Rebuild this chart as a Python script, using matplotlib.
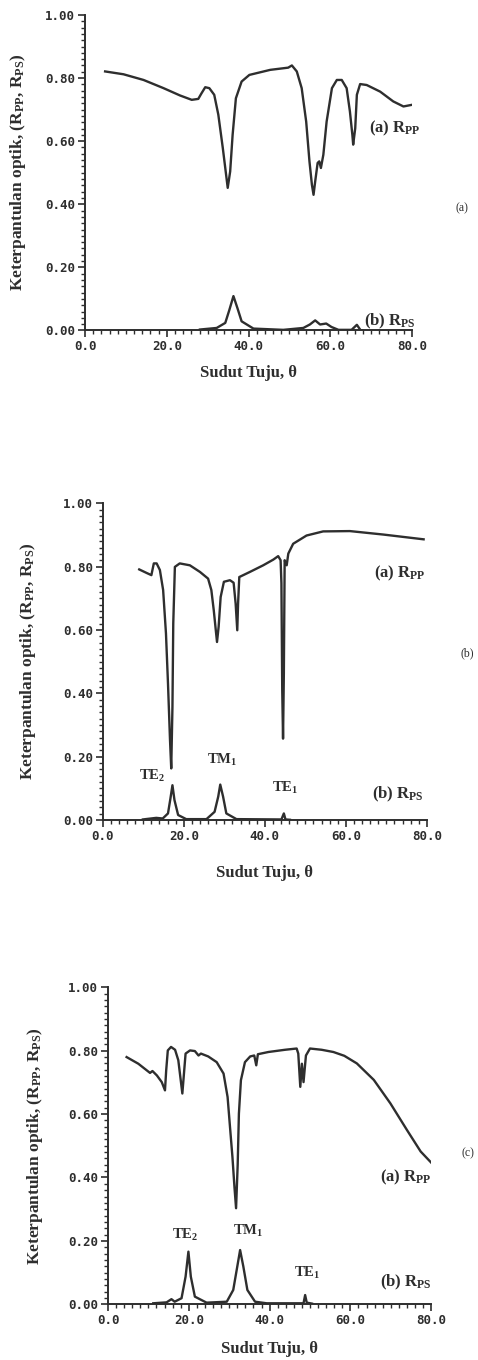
import matplotlib
matplotlib.use("Agg")
import matplotlib.pyplot as plt
from matplotlib.ticker import MultipleLocator, FormatStrFormatter

plt.rcParams['mathtext.fontset'] = 'custom'
plt.rcParams['mathtext.rm'] = 'Liberation Serif:bold'
plt.rcParams['mathtext.it'] = 'Liberation Serif:bold'
plt.rcParams['mathtext.bf'] = 'Liberation Serif:bold'

# panel (a)
a_pp_x = [4.9, 9.4, 14.3, 19.2, 23.2, 26.1, 27.7, 28.5, 29.4, 30.4, 31.6, 32.6, 33.7, 34.5,
          34.9, 35.5, 36.1, 36.9, 38.3, 40.2, 45.3, 49.7, 50.6, 51.8, 53.0, 54.1, 54.9, 55.5,
          55.9, 56.3, 56.9, 57.3, 57.7, 58.3, 59.1, 60.4, 61.6, 62.8, 64.0, 64.8, 65.4, 65.6,
          66.1, 66.5, 67.3, 68.9, 72.2, 75.4, 77.9, 79.9]
a_pp_y = [0.821, 0.812, 0.794, 0.768, 0.745, 0.731, 0.734, 0.752, 0.771, 0.768, 0.747, 0.684, 0.578, 0.494,
          0.452, 0.504, 0.62, 0.736, 0.789, 0.81, 0.826, 0.833, 0.84, 0.821, 0.768, 0.662, 0.536, 0.462,
          0.43, 0.472, 0.531, 0.536, 0.515, 0.557, 0.662, 0.768, 0.794, 0.794, 0.768, 0.694, 0.62, 0.589,
          0.641, 0.747, 0.781, 0.778, 0.757, 0.726, 0.71, 0.715]
a_ps_x = [28.1, 32.2, 34.3, 35.3, 36.3, 37.3, 38.3, 41.2, 48.5, 53.4, 55.0, 56.3, 57.5, 59.0,
          60.3, 62.0, 65.2, 66.5, 67.4, 67.8]
a_ps_y = [0.003, 0.008, 0.024, 0.065, 0.109, 0.07, 0.029, 0.006, 0.002, 0.008, 0.019, 0.032, 0.019, 0.022,
          0.011, 0.002, 0.002, 0.018, 0.001, 0.0]

# panel (b)
b_pp_x = [9.0, 10.8, 12.0, 12.6, 13.3, 14.1, 14.9, 15.6, 16.1, 16.6, 16.9, 17.2, 17.4, 17.8,
          19.0, 21.5, 24.0, 26.0, 26.8, 27.4, 27.9, 28.2, 28.6, 29.1, 29.9, 31.4, 32.3, 32.8,
          33.2, 33.4, 33.7, 36.3, 39.6, 42.1, 43.3, 43.9, 44.1, 44.3, 44.5, 44.7, 44.9, 45.4,
          45.8, 47.0, 50.3, 54.4, 61.0, 69.3, 79.2]
b_pp_y = [0.791, 0.78, 0.773, 0.81, 0.81, 0.789, 0.726, 0.589, 0.431, 0.252, 0.163, 0.357, 0.62, 0.799,
          0.81, 0.804, 0.783, 0.762, 0.726, 0.662, 0.599, 0.562, 0.61, 0.704, 0.752, 0.757, 0.749, 0.683,
          0.599, 0.683, 0.767, 0.783, 0.804, 0.822, 0.833, 0.82, 0.747, 0.41, 0.257, 0.462, 0.82, 0.804,
          0.841, 0.872, 0.898, 0.911, 0.912, 0.901, 0.886]
b_ps_x = [9.9, 13.2, 14.8, 16.1, 16.7, 17.2, 17.7, 18.6, 20.6, 25.6, 27.6, 28.5, 29.0, 29.7,
          30.5, 33.0, 44.1, 44.7, 45.1, 46.2]
b_ps_y = [0.002, 0.007, 0.005, 0.021, 0.068, 0.11, 0.063, 0.016, 0.003, 0.003, 0.026, 0.074, 0.112, 0.074,
          0.021, 0.003, 0.002, 0.021, 0.002, 0.001]

# panel (c)
c_pp_x = [4.6, 7.5, 9.6, 10.4, 11.0, 12.1, 13.3, 14.1, 14.4, 14.8, 15.6, 16.6, 17.4, 18.0,
          18.4, 18.8, 19.2, 20.3, 21.5, 22.4, 23.0, 24.8, 26.9, 28.6, 29.6, 30.2, 30.8, 31.3,
          31.7, 32.1, 32.4, 32.9, 33.9, 35.2, 36.2, 36.7, 37.1, 39.7, 43.8, 46.7, 47.1, 47.6,
          48.0, 48.4, 49.0, 50.0, 52.9, 55.8, 58.5, 61.6, 65.8, 69.9, 74.0, 77.4, 80.0]
c_pp_y = [0.78, 0.759, 0.738, 0.73, 0.736, 0.722, 0.701, 0.675, 0.738, 0.801, 0.812, 0.803, 0.77, 0.707,
          0.665, 0.728, 0.791, 0.801, 0.799, 0.785, 0.791, 0.782, 0.764, 0.728, 0.654, 0.559, 0.465, 0.37,
          0.303, 0.44, 0.601, 0.707, 0.764, 0.782, 0.785, 0.754, 0.789, 0.796, 0.803, 0.807, 0.791, 0.686,
          0.759, 0.701, 0.785, 0.807, 0.803, 0.796, 0.784, 0.76, 0.708, 0.634, 0.55, 0.482, 0.447]
c_ps_x = [11.2, 14.5, 15.7, 16.5, 18.2, 19.2, 19.9, 20.5, 21.5, 24.4, 29.4, 31.0, 32.0, 32.7,
          33.5, 34.5, 36.4, 39.3, 48.4, 48.8, 49.2, 50.5]
c_ps_y = [0.003, 0.006, 0.016, 0.008, 0.019, 0.087, 0.166, 0.087, 0.024, 0.005, 0.008, 0.045, 0.119, 0.171,
          0.119, 0.045, 0.008, 0.003, 0.003, 0.029, 0.005, 0.002]

ylabel = r'Keterpantulan optik, (R$_{\rm PP}$, R$_{\rm PS}$)'
rpp = r'(a) R$_{\rm PP}$'
rps = r'(b) R$_{\rm PS}$'

panels = [
    dict(rect=[0.178, 0.757, 0.684, 0.232], pp=(a_pp_x, a_pp_y), ps=(a_ps_x, a_ps_y),
         pp_lab=(75.8, 0.64), ps_lab=(74.6, 0.03), modes=[], tag='(a)', tag_pos=(462, 208),
         ylab_x=18, xlab_y=373),
    dict(rect=[0.215, 0.397, 0.678, 0.233], pp=(b_pp_x, b_pp_y), ps=(b_ps_x, b_ps_y),
         pp_lab=(73.3, 0.78), ps_lab=(72.9, 0.08),
         modes=[('TE$_2$', 12.1, 0.14), ('TM$_1$', 29.4, 0.19), ('TE$_1$', 45.0, 0.10)],
         tag='(b)', tag_pos=(467, 653), ylab_x=28, xlab_y=873),
    dict(rect=[0.226, 0.041, 0.676, 0.233], pp=(c_pp_x, c_pp_y), ps=(c_ps_x, c_ps_y),
         pp_lab=(73.6, 0.40), ps_lab=(73.6, 0.07),
         modes=[('TE$_2$', 19.1, 0.22), ('TM$_1$', 34.7, 0.23), ('TE$_1$', 49.3, 0.10)],
         tag='(c)', tag_pos=(468, 1153), ylab_x=35, xlab_y=1349),
]

W, H = 478, 1360
fig = plt.figure(figsize=(W / 100, H / 100), dpi=100)
ink = '#2e2e2e'

for p in panels:
    ax = fig.add_axes(p['rect'])
    ax.plot(*p['pp'], color=ink, lw=1.7, solid_joinstyle='round')
    ax.plot(*p['ps'], color=ink, lw=1.7, solid_joinstyle='round')
    ax.set_xlim(0, 80)
    ax.set_ylim(0, 1.0)
    for s in ['top', 'right']:
        ax.spines[s].set_visible(False)
    for s in ['left', 'bottom']:
        ax.spines[s].set_linewidth(1.4)
        ax.spines[s].set_color(ink)
    ax.xaxis.set_major_locator(MultipleLocator(20))
    ax.xaxis.set_minor_locator(MultipleLocator(2))
    ax.yaxis.set_major_locator(MultipleLocator(0.2))
    ax.yaxis.set_minor_locator(MultipleLocator(0.02))
    ax.xaxis.set_major_formatter(FormatStrFormatter('%.1f'))
    ax.yaxis.set_major_formatter(FormatStrFormatter('%.2f'))
    ax.tick_params(which='major', length=5, width=1.2, color=ink, pad=2)
    ax.tick_params(which='minor', length=3, width=1.0, color=ink)
    for lab in ax.get_xticklabels() + ax.get_yticklabels():
        lab.set_family('DejaVu Sans Mono')
        lab.set_fontweight('bold')
        lab.set_fontsize(9)
        lab.set_color(ink)
    ax.text(*p['pp_lab'], rpp, ha='center', va='center', fontsize=12, color=ink,
            family='Liberation Serif', fontweight='bold')
    ax.text(*p['ps_lab'], rps, ha='center', va='center', fontsize=12, color=ink,
            family='Liberation Serif', fontweight='bold')
    for txt, mx, my in p['modes']:
        ax.text(mx, my, txt, ha='center', va='center', fontsize=10.5, color=ink,
                family='Liberation Serif', fontweight='bold')
    fig.text(p['ylab_x'] / W, (p['rect'][1] + p['rect'][3] / 2), ylabel, rotation=90,
             ha='center', va='center', fontsize=12.5, color=ink,
             family='Liberation Serif', fontweight='bold')
    fig.text((p['rect'][0] + p['rect'][2] / 2), 1 - p['xlab_y'] / H, 'Sudut Tuju, θ',
             ha='center', va='center', fontsize=12, color=ink,
             family='Liberation Serif', fontweight='bold')
    fig.text(p['tag_pos'][0] / W, 1 - p['tag_pos'][1] / H, p['tag'], ha='center', va='center',
             fontsize=8.5, color=ink, family='Liberation Serif')

fig.savefig('out.png', dpi=100)
